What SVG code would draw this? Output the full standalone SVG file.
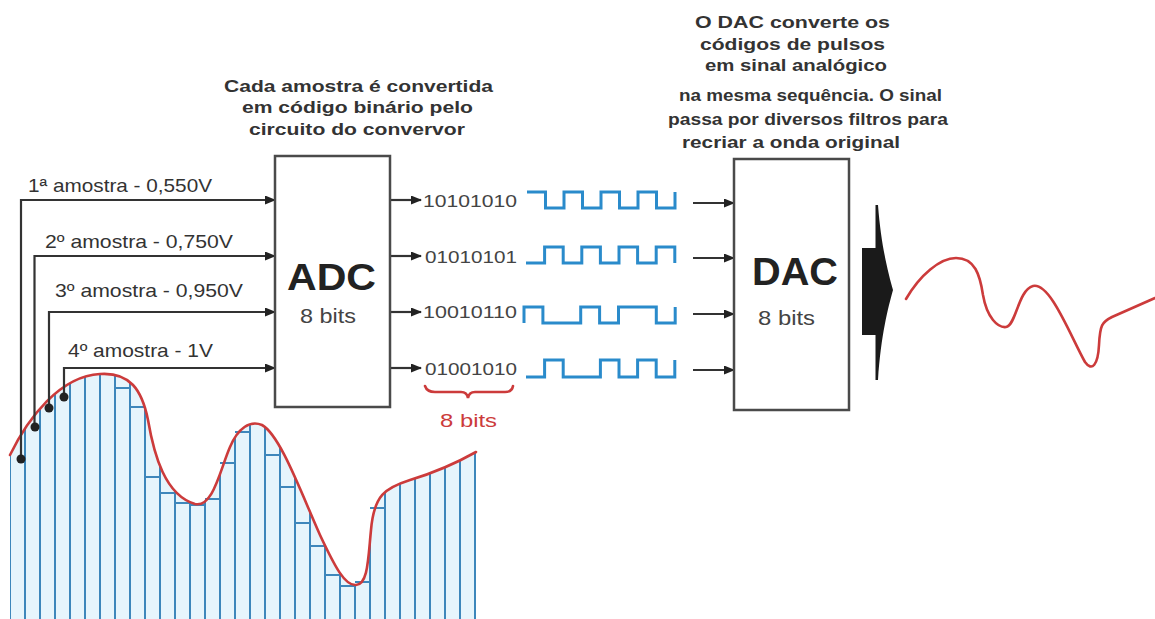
<svg xmlns="http://www.w3.org/2000/svg" width="1155" height="619" viewBox="0 0 1155 619">
<style>
.lbl{font-family:"Liberation Sans",Arial,sans-serif;font-size:18.5px;fill:#333}
.hd{font-family:"Liberation Sans",Arial,sans-serif;font-size:17px;font-weight:bold;fill:#333}
.bin{font-family:"Liberation Sans",Arial,sans-serif;font-size:16.5px;fill:#444}
.big{font-family:"Liberation Sans",Arial,sans-serif;font-weight:bold;fill:#222}
.sub{font-family:"Liberation Sans",Arial,sans-serif;font-size:21px;fill:#444}
.conn{fill:none;stroke:#333;stroke-width:2.2}
.box{fill:#fff;stroke:#4a4a4a;stroke-width:2.5}
.pulse{fill:none;stroke:#2a8bcb;stroke-width:3;stroke-linejoin:miter}
.red{fill:none;stroke:#cc3b3b;stroke-width:2.6;stroke-linecap:round}
.bar{fill:none;stroke:#3d87bb;stroke-width:2}
</style>
<defs>
<marker id="ah" markerUnits="userSpaceOnUse" markerWidth="11" markerHeight="9" refX="10" refY="4.5" orient="auto">
<path d="M0,0 L11,4.5 L0,9 z" fill="#222"/>
</marker>
<clipPath id="under">
<path d="M10,455 C28,418 60,376 100,374 C130,372 142,390 148,420 C154,455 165,495 195,504 C213,508 220,470 230,447 C238,428 250,420 262,425 C280,435 300,490 320,535 C335,567 345,586 356,585 C368,584 368,560 371,530 C374,495 385,488 410,480 C440,471 460,461 476,452 L476,619 L10,619 Z"/>
</clipPath>
</defs>
<rect width="1155" height="619" fill="#fff"/>

<g id="sampled-wave">
<g clip-path="url(#under)">
<rect x="10" y="360" width="466" height="259" fill="#e6f5fc"/>
<path class="bar" d="M10,360V619M25,360V619M40,360V619M55,360V619M70,360V619M85,360V619M100,360V619M115,360V619M130,360V619M145,360V619M160,360V619M175,360V619M190,360V619M205,360V619M220,360V619M235,360V619M250,360V619M265,360V619M280,360V619M295,360V619M310,360V619M325,360V619M340,360V619M355,360V619M370,360V619M385,360V619M400,360V619M415,360V619M430,360V619M445,360V619M460,360V619M475,360V619"/>
</g>
<path class="bar" d="M115,388H130M130,407H145M145,477H160M160,493H175M175,503H190M190,505H205M205,499H220M220,463H235M235,432H250M265,455H280M280,487H295M295,523H310M310,546H325M325,575H340M340,586H355M355,582H370M370,508H385"/>
<path class="red" d="M10,455 C28,418 60,376 100,374 C130,372 142,390 148,420 C154,455 165,495 195,504 C213,508 220,470 230,447 C238,428 250,420 262,425 C280,435 300,490 320,535 C335,567 345,586 356,585 C368,584 368,560 371,530 C374,495 385,488 410,480 C440,471 460,461 476,452"/>
</g>

<g id="connectors">
<path class="conn" d="M21,459 V200 H275" marker-end="url(#ah)"/>
<path class="conn" d="M34.5,427 V256 H275" marker-end="url(#ah)"/>
<path class="conn" d="M49,408 V312 H275" marker-end="url(#ah)"/>
<path class="conn" d="M64,397 V368 H275" marker-end="url(#ah)"/>
<path class="conn" d="M390,200 H421" marker-end="url(#ah)"/>
<path class="conn" d="M390,256 H421" marker-end="url(#ah)"/>
<path class="conn" d="M390,312 H421" marker-end="url(#ah)"/>
<path class="conn" d="M390,368 H421" marker-end="url(#ah)"/>
<path class="conn" d="M693,203 H734" marker-end="url(#ah)"/>
<path class="conn" d="M693,258 H734" marker-end="url(#ah)"/>
<path class="conn" d="M693,314 H734" marker-end="url(#ah)"/>
<path class="conn" d="M693,370 H734" marker-end="url(#ah)"/>
</g>

<g id="sample-dots" fill="#222">
<circle cx="21" cy="459" r="4.5"/>
<circle cx="35" cy="427" r="4.5"/>
<circle cx="49" cy="408" r="4.5"/>
<circle cx="64" cy="397" r="4.5"/>
</g>

<g id="sample-labels">
<text class="lbl" x="28" y="192" textLength="184" lengthAdjust="spacingAndGlyphs">1ª amostra - 0,550V</text>
<text class="lbl" x="45" y="248" textLength="188" lengthAdjust="spacingAndGlyphs">2º amostra - 0,750V</text>
<text class="lbl" x="55" y="297" textLength="188" lengthAdjust="spacingAndGlyphs">3º amostra - 0,950V</text>
<text class="lbl" x="68" y="357" textLength="145" lengthAdjust="spacingAndGlyphs">4º amostra - 1V</text>
</g>

<g id="adc-caption">
<text class="hd" x="224" y="92" textLength="269" lengthAdjust="spacingAndGlyphs">Cada amostra é convertida</text>
<text class="hd" x="242" y="113" textLength="231" lengthAdjust="spacingAndGlyphs">em código binário pelo</text>
<text class="hd" x="249" y="135" textLength="216" lengthAdjust="spacingAndGlyphs">circuito do convervor</text>
</g>

<g id="adc">
<rect class="box" x="275" y="156" width="115" height="251"/>
<text class="big" x="287" y="290" font-size="37" textLength="89" lengthAdjust="spacingAndGlyphs">ADC</text>
<text class="sub" x="300" y="323" textLength="56" lengthAdjust="spacingAndGlyphs">8 bits</text>
</g>

<g id="codes">
<text class="bin" x="423" y="207" textLength="94" lengthAdjust="spacingAndGlyphs">10101010</text>
<text class="bin" x="425" y="263" textLength="92" lengthAdjust="spacingAndGlyphs">01010101</text>
<text class="bin" x="423" y="318" textLength="94" lengthAdjust="spacingAndGlyphs">10010110</text>
<text class="bin" x="425" y="375" textLength="92" lengthAdjust="spacingAndGlyphs">01001010</text>
</g>

<g id="pulses">
<path class="pulse" d="M527,192 H545.5 V208 H564 V192 H582.5 V208 H601 V192 H619.5 V208 H638 V192 H656.5 V208 H675 V192"/>
<path class="pulse" d="M526,263 H544.6 V247 H563.2 V263 H581.8 V247 H600.4 V263 H619 V247 H637.6 V263 H656.2 V247 H674.8 V263"/>
<path class="pulse" d="M524,323 V307 H542.9 V323 H580.7 V307 H599.6 V323 H618.5 V307 H656.3 V323 H675.2 V307"/>
<path class="pulse" d="M526,377 H544.6 V360 H563.2 V377 H600.4 V360 H619 V377 H637.6 V360 H656.2 V377 H674.8 V360"/>
</g>

<g id="brace">
<path class="red" d="M425,386 Q427,392 435,392 L461,392 Q467,392 468,398 Q469,392 475,392 L505,392 Q512,392 513,386"/>
<text x="440" y="427" font-family="Liberation Sans, Arial, sans-serif" font-size="19" fill="#cc3b3b" textLength="57" lengthAdjust="spacingAndGlyphs">8 bits</text>
</g>

<g id="dac-caption">
<text class="hd" x="695" y="28" textLength="195" lengthAdjust="spacingAndGlyphs">O DAC converte os</text>
<text class="hd" x="700" y="50" textLength="185" lengthAdjust="spacingAndGlyphs">códigos de pulsos</text>
<text class="hd" x="705" y="71" textLength="182" lengthAdjust="spacingAndGlyphs">em sinal analógico</text>
<text class="hd" x="679" y="101" textLength="263" lengthAdjust="spacingAndGlyphs">na mesma sequência. O sinal</text>
<text class="hd" x="668" y="125" textLength="280" lengthAdjust="spacingAndGlyphs">passa por diversos filtros para</text>
<text class="hd" x="682" y="148" textLength="218" lengthAdjust="spacingAndGlyphs">recriar a onda original</text>
</g>

<g id="dac">
<rect class="box" x="734" y="159" width="115" height="251"/>
<text class="big" x="752" y="285" font-size="39" textLength="86" lengthAdjust="spacingAndGlyphs">DAC</text>
<text class="sub" x="758" y="325" textLength="57" lengthAdjust="spacingAndGlyphs">8 bits</text>
</g>

<g id="output-arrow" fill="#1a1a1a">
<rect x="862" y="248" width="16" height="87"/>
<path d="M875.5,205 L878,205 C881,245 888,272 893,290 C888,308 881,335 878,380 L875.5,380 Z"/>
</g>

<g id="output-wave">
<path class="red" d="M906,299 C920,275 940,258 956,258 C975,258 980,275 983,295 C987,318 998,328 1006,327 C1016,326 1018,290 1033,286 C1050,282 1070,335 1085,362 C1092,372 1098,365 1099,345 C1100,325 1102,322 1112,317 L1155,298"/>
</g>
</svg>
